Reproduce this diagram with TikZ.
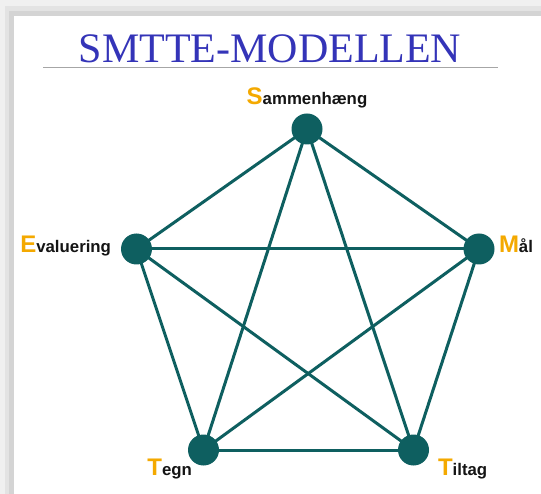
\documentclass[tikz,border=0pt]{standalone}
\usepackage{fontspec}
\setmainfont{Liberation Serif}
\newfontfamily\labelfont{Liberation Sans}
\usetikzlibrary{backgrounds}
\definecolor{teal1}{HTML}{0E5F60}
\definecolor{orange1}{HTML}{F4A900}
\definecolor{title1}{HTML}{3434B8}
\definecolor{txt1}{HTML}{141414}
\newcommand{\smttelabel}[2]{{\labelfont\bfseries\color{orange1}\fontsize{24}{24}\selectfont #1}{\labelfont\bfseries\color{txt1}\fontsize{16.8}{16.8}\selectfont #2}}
\begin{document}
\begin{tikzpicture}[x=1pt,y=-1pt,
  dot/.style={circle,fill=teal1,draw=none,minimum size=31pt,inner sep=0pt},
  edge/.style={draw=teal1,line width=3pt},
  lbl/.style={inner sep=0pt,outer sep=0pt}]
\useasboundingbox (0,0) rectangle (541,494);
% nodes
\node[dot] (S) at (307,129) {};
\node[dot] (E) at (136.5,249) {};
\node[dot] (M) at (479,249) {};
\node[dot] (T) at (203.5,450) {};
\node[dot] (Ti) at (413.5,450) {};
% labels
\node[lbl,anchor=base] (lS) at (307,105) {\smttelabel{S}{ammenhæng}};
\node[lbl,anchor=base east] (lE) at (111,253) {\smttelabel{E}{valuering}};
\node[lbl,anchor=base west] (lM) at (499,253) {\smttelabel{M}{ål}};
\node[lbl,anchor=base east] (lT) at (192,475) {\smttelabel{T}{egn}};
\node[lbl,anchor=base west] (lTi) at (438,475) {\smttelabel{T}{iltag}};
% title
\node[lbl,anchor=base,text=title1] (title) at (270,63) {\fontsize{42}{42}\selectfont SMTTE-MODELLEN};
\coordinate (ulA) at (43,68);
\coordinate (ulB) at (498,68);
\begin{scope}[on background layer]
  \fill[gray!12] (0,0) rectangle (541,494);
  \fill[gray!22] (5,6) rectangle (541,494);
  \fill[gray!34] (9,11) rectangle (541,494);
  \fill[white] (14,16) rectangle (541,494);
  \draw[gray!70,line width=1pt] (ulA) -- (ulB);
  \draw[edge] (S.center) -- (E.center);
  \draw[edge] (S.center) -- (M.center);
  \draw[edge] (S.center) -- (T.center);
  \draw[edge] (S.center) -- (Ti.center);
  \draw[edge] (E.center) -- (M.center);
  \draw[edge] (E.center) -- (T.center);
  \draw[edge] (E.center) -- (Ti.center);
  \draw[edge] (M.center) -- (T.center);
  \draw[edge] (M.center) -- (Ti.center);
  \draw[edge] (T.center) -- (Ti.center);
\end{scope}
\end{tikzpicture}
\end{document}
